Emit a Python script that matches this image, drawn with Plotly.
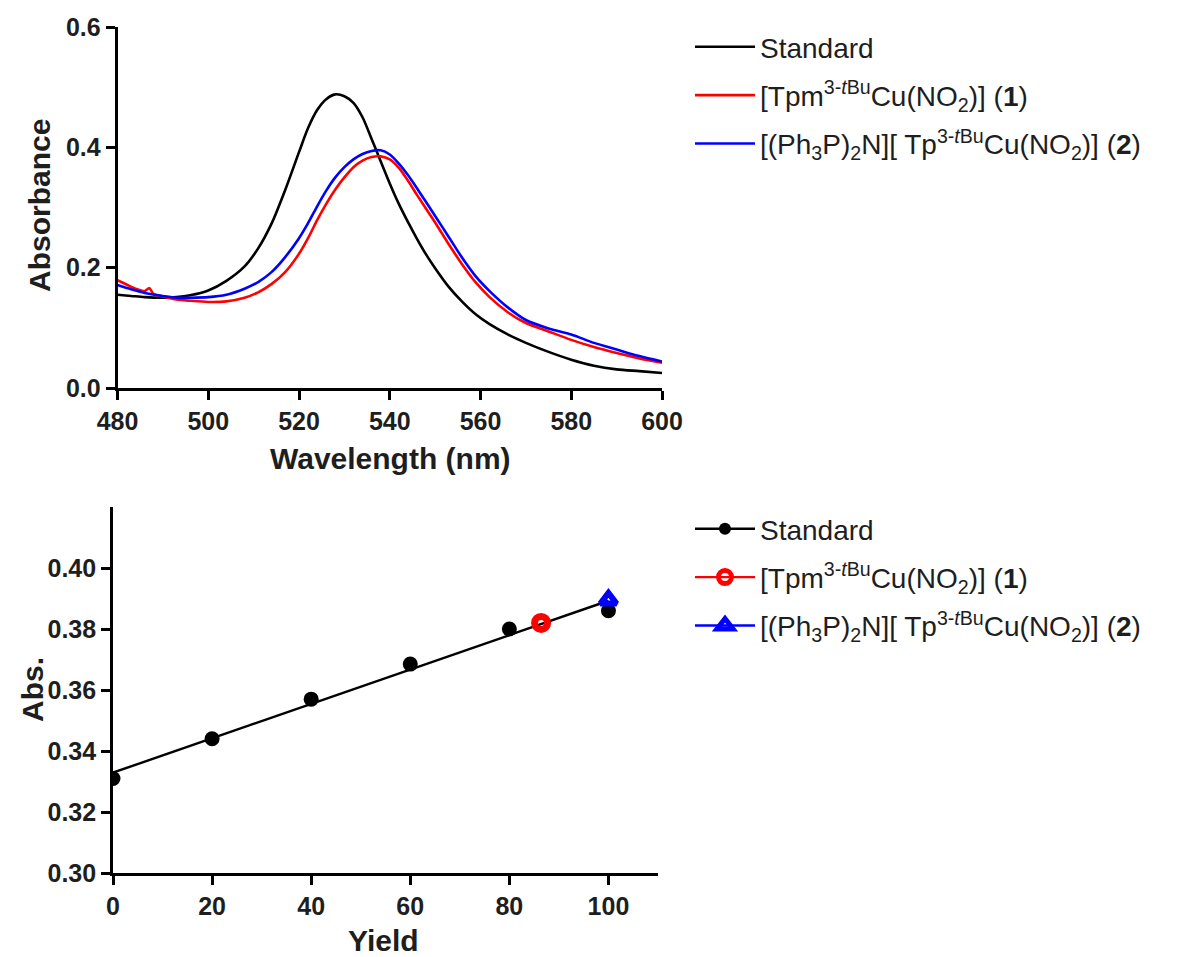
import numpy as np
import plotly.graph_objects as go

# ---- UV-vis spectra (wavelength in nm, absorbance) ----
wl = [480, 483, 486, 490, 493, 496, 500, 504, 508, 511, 514, 517, 520, 522, 524,
      526, 528, 530, 532, 534, 536, 538, 540, 542, 544, 546, 548, 550, 553, 556,
      559, 562, 566, 570, 575, 580, 585, 590, 595, 600]

abs_standard = [0.155, 0.153, 0.151, 0.150, 0.151, 0.154, 0.162, 0.178, 0.202, 0.232,
                0.274, 0.330, 0.392, 0.432, 0.462, 0.480, 0.488, 0.485, 0.474, 0.450,
                0.414, 0.377, 0.340, 0.306, 0.276, 0.248, 0.222, 0.199, 0.168, 0.143,
                0.122, 0.106, 0.089, 0.075, 0.060, 0.047, 0.037, 0.031, 0.028, 0.025]

wl_1 = [480, 482, 484, 486, 487, 488, 490, 493, 496, 500, 504, 508, 511, 514, 517,
        520, 522, 524, 526, 528, 530, 532, 534, 536, 538, 540, 542, 544, 546, 548,
        550, 553, 556, 559, 562, 566, 570, 575, 580, 585, 590, 595, 600]

abs_1 = [0.179, 0.172, 0.165, 0.161, 0.166, 0.156, 0.152, 0.147, 0.145, 0.143, 0.144,
         0.150, 0.159, 0.173, 0.193, 0.223, 0.249, 0.279, 0.306, 0.330, 0.350, 0.367,
         0.378, 0.384, 0.385, 0.380, 0.366, 0.345, 0.321, 0.298, 0.275, 0.239, 0.205,
         0.175, 0.151, 0.126, 0.108, 0.094, 0.080, 0.068, 0.058, 0.049, 0.042]

abs_2 = [0.171, 0.164, 0.158, 0.153, 0.150, 0.150, 0.151, 0.155, 0.165, 0.176, 0.193,
         0.218, 0.249, 0.274, 0.302, 0.328, 0.350, 0.367, 0.380, 0.389, 0.394, 0.395,
         0.388, 0.373, 0.354, 0.332, 0.309, 0.286, 0.251, 0.216, 0.185, 0.161, 0.134,
         0.113, 0.099, 0.089, 0.075, 0.064, 0.053, 0.044]

# ---- Calibration (yield %, absorbance at peak) ----
yield_std = [0, 20, 40, 60, 80, 100]
abs_std = [0.331, 0.344, 0.357, 0.3685, 0.380, 0.386]
yield_1 = [86.4]
abs_pt_1 = [0.382]
yield_2 = [100]
abs_pt_2 = [0.3895]

name_std = "Standard"
name_1 = "[Tpm<sup>3-<i>t</i>Bu</sup>Cu(NO<sub>2</sub>)] (<b>1</b>)"
name_2 = "[(Ph<sub>3</sub>P)<sub>2</sub>N][ Tp<sup>3-<i>t</i>Bu</sup>Cu(NO<sub>2</sub>)] (<b>2</b>)"

BLACK, RED, BLUE = "#000000", "#ff0000", "#0000ff"
TEXT = "#1e1e1e"
FONT = "Liberation Sans, Arial, sans-serif"

fig = go.Figure()

# spectra
fig.add_trace(go.Scatter(x=wl, y=abs_standard, mode="lines", name=name_std,
                         line=dict(color=BLACK, width=2.6, shape="spline", smoothing=0.8),
                         xaxis="x", yaxis="y", legend="legend", legendgroup="a"))
fig.add_trace(go.Scatter(x=wl_1, y=abs_1, mode="lines", name=name_1,
                         line=dict(color=RED, width=2.6, shape="spline", smoothing=0.6),
                         xaxis="x", yaxis="y", legend="legend", legendgroup="b"))
fig.add_trace(go.Scatter(x=wl, y=abs_2, mode="lines", name=name_2,
                         line=dict(color=BLUE, width=2.6, shape="spline", smoothing=0.8),
                         xaxis="x", yaxis="y", legend="legend", legendgroup="c"))

# linear fit of the standard series
slope, intercept = np.polyfit(yield_std, abs_std, 1)
fit_x = [min(yield_std), max(yield_std)]
fit_y = [intercept + slope * v for v in fit_x]
fig.add_trace(go.Scatter(x=fit_x, y=fit_y, mode="lines", showlegend=False,
                         line=dict(color=BLACK, width=2.4),
                         xaxis="x2", yaxis="y2", hoverinfo="skip"))
fig.add_trace(go.Scatter(x=yield_std, y=abs_std, mode="markers", showlegend=False,
                         marker=dict(color=BLACK, size=15, symbol="circle"),
                         xaxis="x2", yaxis="y2"))
# legend entry for the standard (line + marker)
fig.add_trace(go.Scatter(x=[None], y=[None], mode="lines+markers", name=name_std,
                         line=dict(color=BLACK, width=2.4),
                         marker=dict(color=BLACK, size=12, symbol="circle"),
                         xaxis="x2", yaxis="y2", legend="legend2", legendgroup="d"))
fig.add_trace(go.Scatter(x=yield_1, y=abs_pt_1, mode="lines+markers", name=name_1,
                         line=dict(color=RED, width=2.4),
                         marker=dict(color=RED, size=13, symbol="circle-open",
                                     line=dict(color=RED, width=7)),
                         xaxis="x2", yaxis="y2", legend="legend2", legendgroup="e"))
fig.add_trace(go.Scatter(x=yield_2, y=abs_pt_2, mode="lines+markers", name=name_2,
                         line=dict(color=BLUE, width=2.4),
                         marker=dict(color=BLUE, size=14, symbol="triangle-up-open",
                                     line=dict(color=BLUE, width=6)),
                         xaxis="x2", yaxis="y2", legend="legend2", legendgroup="f"))

W, H = 1182, 957


def px_x(p):
    return p / W


def px_y(p):
    return 1 - p / H


axis_common = dict(showgrid=False, zeroline=False, showline=True, linecolor=BLACK,
                   linewidth=2.6, ticks="outside", ticklen=9, tickwidth=2.6,
                   tickcolor=BLACK, mirror=False, automargin=False,
                   tickfont=dict(family=FONT, size=25, color=TEXT, weight="bold"))

legend_common = dict(xanchor="left", yanchor="top", bgcolor="rgba(0,0,0,0)",
                     font=dict(family=FONT, size=28, color=TEXT),
                     itemwidth=60, tracegroupgap=9)

title_font = dict(family=FONT, size=30, color=TEXT, weight="bold")


def axis_title(text, x, y, angle=0):
    return dict(text=text, x=px_x(x), y=px_y(y), xref="paper", yref="paper",
                showarrow=False, textangle=angle, font=title_font,
                xanchor="center", yanchor="middle")


fig.update_layout(
    width=W, height=H,
    margin=dict(l=0, r=0, t=0, b=0, autoexpand=False),
    paper_bgcolor="white", plot_bgcolor="white",
    font=dict(family=FONT, color=TEXT),
    xaxis=dict(domain=[px_x(117.5), px_x(662)], range=[480, 600], tick0=480, dtick=20,
               anchor="y", **axis_common),
    yaxis=dict(domain=[px_y(388), px_y(27)], range=[0, 0.6], tick0=0, dtick=0.2,
               tickformat=".1f", anchor="x", **axis_common),
    xaxis2=dict(domain=[px_x(113), px_x(658)], range=[0, 110],
                tickvals=[0, 20, 40, 60, 80, 100], anchor="y2", **axis_common),
    yaxis2=dict(domain=[px_y(873), px_y(507)], range=[0.30, 0.42],
                tickvals=[0.30, 0.32, 0.34, 0.36, 0.38, 0.40], tickformat=".2f",
                anchor="x2", **axis_common),
    annotations=[
        axis_title("Wavelength (nm)", 391, 458),
        axis_title("Absorbance", 40, 206, -90),
        axis_title("Yield", 384, 940),
        axis_title("Abs.", 32, 690, -90),
    ],
    legend=dict(x=px_x(690), y=px_y(22), **legend_common),
    legend2=dict(x=px_x(690), y=px_y(504), **legend_common),
)

fig.write_html("out.html")
